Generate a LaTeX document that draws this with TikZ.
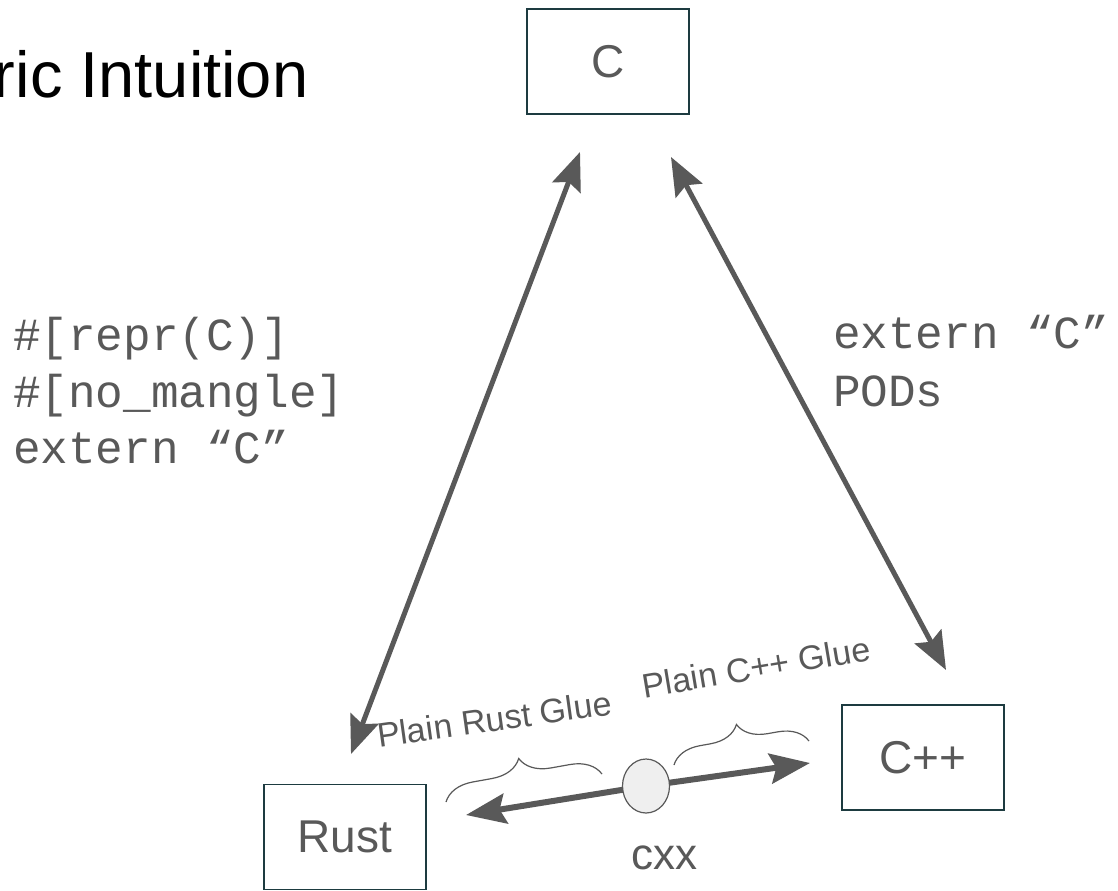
\documentclass[tikz,border=0pt]{standalone}
\usepackage{fontspec}
\setmainfont{Liberation Sans}
\setmonofont{Liberation Mono}
\usetikzlibrary{arrows.meta,shapes.geometric,decorations.pathreplacing}
\definecolor{slidegray}{HTML}{595959}
\definecolor{boxline}{HTML}{1D3B40}
\definecolor{hubfill}{HTML}{EFEFEF}
\begin{document}
\begin{tikzpicture}[x=0.5pt,y=-0.5pt,inner sep=0pt,outer sep=0pt,
	langbox/.style={draw=boxline,line width=0.75pt,fill=white,minimum width=81pt,minimum height=52.5pt,text=slidegray,font=\fontsize{23}{27}\selectfont},
	code/.style={anchor=base west,text=slidegray,font=\ttfamily\fontsize{23}{27}\selectfont},
	glue/.style={anchor=base,text=slidegray,font=\fontsize{17}{20}\selectfont},
	link/.style={slidegray,line width=2.5pt,{Stealth[length=19pt,width=15pt,inset=3pt]}-{Stealth[length=19pt,width=15pt,inset=3pt]}},
	bridge/.style={slidegray,line width=3pt,-{Stealth[length=20pt,width=15pt,inset=3pt]}},
	gluebrace/.style={slidegray,line width=0.6pt,decorate,decoration={brace,amplitude=15pt}}]
	\path[fill=white,use as bounding box] (0,0) rectangle (1118,890);
	\draw (-6,97) node[anchor=base west,font=\fontsize{32.5}{38}\selectfont] (title) {ric Intuition};
	\draw (608,61.5) node[langbox] (C) {C};
	\draw (345,837) node[langbox] (Rust) {Rust};
	\draw (923,757.5) node[langbox] (Cpp) {C++};
	\draw (13,350) node[code] (repr) {\#[repr(C)]};
	\draw (13,407) node[code] (nomangle) {\#[no\_mangle]};
	\draw (13,463) node[code] (externrust) {extern “C”};
	\draw (833,348) node[code] (externcpp) {extern “C”};
	\draw (833,406) node[code] (pods) {PODs};
	\coordinate (rusttop) at (351,754);
	\coordinate (cleft) at (580,152);
	\coordinate (cright) at (671,157);
	\coordinate (cpptop) at (946,670);
	\draw[link] (cleft) -- (rusttop);
	\draw[link] (cright) -- (cpptop);
	\coordinate (rusttip) at (466,815);
	\coordinate (cpptip) at (810,763);
	\draw (646,786) node[draw=slidegray,fill=hubfill,ellipse,line width=0.6pt,minimum width=23.5pt,minimum height=27pt] (hub) {};
	\draw[bridge] (hub) -- (rusttip);
	\draw[bridge] (hub) -- (cpptip);
	\draw (664,858) node[text=slidegray,font=\fontsize{22}{26}\selectfont] (cxx) {cxx};
	\coordinate (rbrace1) at (446,802);
	\coordinate (rbrace2) at (602,774);
	\coordinate (cbrace1) at (674,765);
	\coordinate (cbrace2) at (809,741);
	\draw[gluebrace] (rbrace1) -- (rbrace2);
	\draw[gluebrace,decoration={amplitude=14.5pt}] (cbrace1) -- (cbrace2);
	\draw (496,731) node[glue,rotate=8] (rustglue) {Plain Rust Glue};
	\draw (758,679) node[glue,rotate=9.5] (cppglue) {Plain C++ Glue};
\end{tikzpicture}
\end{document}
